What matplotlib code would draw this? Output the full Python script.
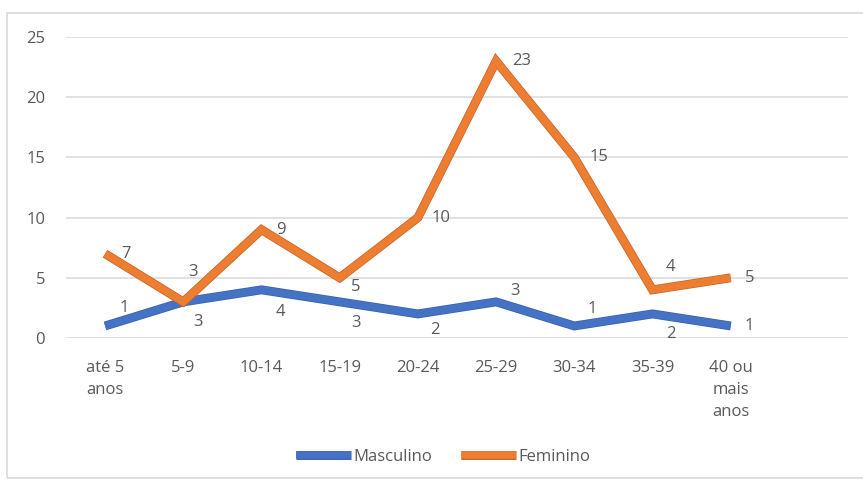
import matplotlib
matplotlib.use("Agg")
import matplotlib.pyplot as plt
import matplotlib.patheffects as pe
from matplotlib.patches import Rectangle

categories = ["até 5\nanos", "5-9", "10-14", "15-19", "20-24", "25-29", "30-34", "35-39", "40 ou\nmais\nanos"]
masculino = [1, 3, 4, 3, 2, 3, 1, 2, 1]
feminino = [7, 3, 9, 5, 10, 23, 15, 4, 5]
yticks = [0, 5, 10, 15, 20, 25]

# label offsets in pixels (dx, dy), dy positive = up
off_m = [(19, 18), (15, -20), (19, -22), (16, -21), (17, -16), (19, 11), (18, 17), (18, -20), (19, 0)]
off_f = [(21, 0), (10, 30), (19, 0), (16, -9), (23, 0), (26, 0), (25, 0), (18, 23), (19, 0)]

plt.rcParams['font.family'] = ['Open Sans', 'DejaVu Sans']
W, H = 863, 479
fig = plt.figure(figsize=(W / 100, H / 100), dpi=100)
fig.patches.append(Rectangle((7 / W, 1 - 477.5 / H), 1.0, (477.5 - 13) / H, transform=fig.transFigure,
                             fill=False, edgecolor="#D9D9D9", linewidth=1.2, zorder=0))

left, right, top, bottom = 66, 848, 37, 338
ax = fig.add_axes([left / W, 1 - bottom / H, (right - left) / W, (bottom - top) / H])

x = list(range(len(categories)))
blue = "#4472C4"
orange = "#ED7D31"
ax.plot(x, masculino, color=blue, lw=5.4, solid_joinstyle='miter', solid_capstyle='butt', zorder=3,
        label="Masculino",
        path_effects=[pe.Stroke(linewidth=6.4, foreground="#3A5FA8"), pe.Normal()])
ax.plot(x, feminino, color=orange, lw=5.4, solid_joinstyle='miter', solid_capstyle='butt', zorder=4,
        label="Feminino",
        path_effects=[pe.Stroke(linewidth=6.4, foreground="#C0652A"), pe.Normal()])

txtc = "#595959"
fs = 12
for xi, v, (dx, dy) in zip(x, masculino, off_m):
    ax.annotate(str(v), (xi, v), xytext=(dx, dy), textcoords='offset pixels',
                ha='center', va='center', fontsize=fs, color=txtc, zorder=5)
for xi, v, (dx, dy) in zip(x, feminino, off_f):
    ax.annotate(str(v), (xi, v), xytext=(dx, dy), textcoords='offset pixels',
                ha='center', va='center', fontsize=fs, color=txtc, zorder=5)

ax.set_xlim(-0.5, 9.5)
ax.set_ylim(0, 25)
ax.set_yticks(yticks)
ax.set_xticks(x)
ax.set_xticklabels(categories, linespacing=1.5)
ax.tick_params(axis='both', length=0, labelsize=fs, labelcolor=txtc)
ax.tick_params(axis='y', pad=15)
ax.tick_params(axis='x', pad=16)
ax.grid(axis='y', color="#D9D9D9", lw=1.1)
ax.set_axisbelow(True)
for s in ax.spines.values():
    s.set_visible(False)

leg = fig.legend(loc='center', bbox_to_anchor=(443 / W, 1 - 457 / H), ncol=2, frameon=False,
                 fontsize=fs, handlelength=3.3, handletextpad=0.15, columnspacing=1.7,
                 labelcolor=txtc)
for h in leg.get_lines():
    h.set_linewidth(5.4)

fig.savefig("out.png", dpi=100)
